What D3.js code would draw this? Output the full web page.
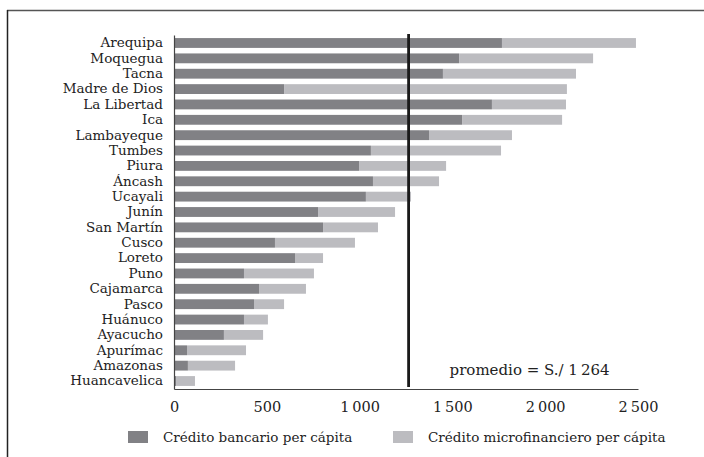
<!DOCTYPE html>
<html>
<head>
<meta charset="utf-8">
<script src="https://cdn.jsdelivr.net/npm/d3@7"></script>
<style>
  body { margin: 0; background: #fff; }
  svg text { font-family: "DejaVu Serif", "Liberation Serif", serif; fill: #222; }
</style>
</head>
<body>
<div id="chart"></div>
<script>
// Datos (soles per cápita)
const regiones = ["Arequipa", "Moquegua", "Tacna", "Madre de Dios", "La Libertad", "Ica",
  "Lambayeque", "Tumbes", "Piura", "Áncash", "Ucayali", "Junín", "San Martín", "Cusco",
  "Loreto", "Puno", "Cajamarca", "Pasco", "Huánuco", "Ayacucho", "Apurímac", "Amazonas",
  "Huancavelica"];
const bancario = [1767, 1536, 1449, 593, 1713, 1552, 1374, 1061, 997, 1072, 1034, 776,
  803, 544, 652, 377, 458, 431, 377, 269, 70, 75, 11];
const microfinanciero = [722, 722, 717, 1524, 399, 539, 447, 701, 469, 356, 243, 415,
  296, 431, 151, 377, 253, 162, 129, 211, 318, 254, 102];
const promedio = 1264;
const ticks = [0, 500, 1000, 1500, 2000, 2500];
const series = ["Crédito bancario per cápita", "Crédito microfinanciero per cápita"];
const colores = ["#818185", "#bcbcc0"];

const width = 704;
const height = 457;
const margin = { top: 35, right: 66, bottom: 68, left: 174 };
const innerWidth = width - margin.left - margin.right;
const innerHeight = height - margin.top - margin.bottom;

const svg = d3.select("#chart").append("svg")
  .attr("width", width)
  .attr("height", height);

// Marco
svg.append("line").attr("x1", 7).attr("x2", width).attr("y1", 10.5).attr("y2", 10.5)
  .attr("stroke", "#555").attr("stroke-width", 1.5);
svg.append("line").attr("x1", 7.5).attr("x2", 7.5).attr("y1", 10).attr("y2", height)
  .attr("stroke", "#222").attr("stroke-width", 1.5);

const chart = svg.append("g")
  .attr("transform", `translate(${margin.left}, ${margin.top})`);

const x = d3.scaleLinear().domain([0, 2500]).range([0, innerWidth]);
const y = d3.scaleBand().domain(regiones).range([0, innerHeight]).paddingInner(0.36).paddingOuter(0.2);

const datos = regiones.map((r, i) => ({ region: r, banco: bancario[i], micro: microfinanciero[i] }));

// Barras
chart.selectAll("rect.banco")
  .data(datos)
  .enter()
  .append("rect")
  .attr("class", "banco")
  .attr("x", x(0))
  .attr("y", (d) => y(d.region))
  .attr("width", (d) => x(d.banco) - x(0))
  .attr("height", y.bandwidth())
  .attr("fill", colores[0]);

chart.selectAll("rect.micro")
  .data(datos)
  .enter()
  .append("rect")
  .attr("class", "micro")
  .attr("x", (d) => x(d.banco))
  .attr("y", (d) => y(d.region))
  .attr("width", (d) => x(d.banco + d.micro) - x(d.banco))
  .attr("height", y.bandwidth())
  .attr("fill", colores[1]);

// Ejes
const xAxis = chart.append("g")
  .attr("transform", `translate(0, ${innerHeight})`)
  .call(d3.axisBottom(x).tickValues(ticks).tickSize(0).tickPadding(13)
    .tickFormat((d) => d3.format(",")(d).replace(",", "\u2009")));
xAxis.select(".domain").attr("stroke", "#444").attr("stroke-width", 1.2);
xAxis.selectAll("text").style("font-size", "14.5px").style("font-family", "DejaVu Serif, serif").attr("fill", "#222");

const yAxis = chart.append("g")
  .call(d3.axisLeft(y).tickSize(0).tickPadding(11));
yAxis.select(".domain").attr("stroke", "#444").attr("stroke-width", 1.2);
yAxis.selectAll("text").style("font-size", "13.5px").style("font-family", "DejaVu Serif, serif").attr("fill", "#222");

// Línea de promedio
chart.append("line")
  .attr("x1", x(promedio)).attr("x2", x(promedio))
  .attr("y1", -1).attr("y2", innerHeight - 2)
  .attr("stroke", "#1a1a1a").attr("stroke-width", 2.8);

chart.append("text")
  .attr("x", x(promedio) + 41)
  .attr("y", innerHeight - 14)
  .style("font-size", "15px")
  .text(`promedio = S./ 1\u2009264`);

// Leyenda
const leyenda = svg.append("g").attr("transform", `translate(128, 431)`);
const posiciones = [0, 265];
series.forEach((s, i) => {
  const g = leyenda.append("g").attr("transform", `translate(${posiciones[i]}, 0)`);
  g.append("rect").attr("width", 20).attr("height", 12).attr("fill", colores[i]);
  g.append("text").attr("x", 35).attr("y", 11).style("font-size", "13.5px").text(s);
});
</script>
</body>
</html>
